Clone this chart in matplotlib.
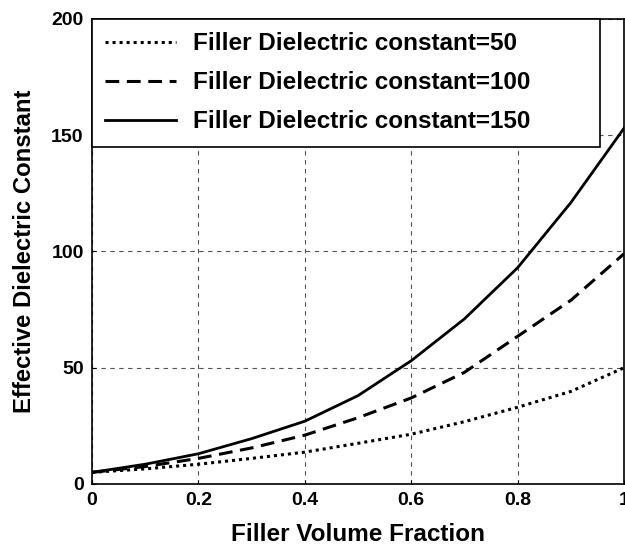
import numpy as np
import matplotlib.pyplot as plt

plt.rcParams['font.family'] = ['Liberation Sans', 'DejaVu Sans']
plt.rcParams['font.weight'] = 'bold'

# volume fraction and effective dielectric constant
vf = [0.0, 0.1, 0.2, 0.3, 0.4, 0.5, 0.6, 0.7, 0.8, 0.9, 1.0]
eps_50 = [5, 6.5, 8.5, 11, 13.7, 17.5, 21.4, 26.8, 33, 39.8, 50]
eps_100 = [5, 7.5, 11, 15.5, 21, 28.5, 37, 48, 63.5, 79, 99]
eps_150 = [5, 8.5, 13, 19.5, 27, 38, 53, 71, 93, 121, 153]

labels = ['Filler Dielectric constant=50',
          'Filler Dielectric constant=100',
          'Filler Dielectric constant=150']

fig = plt.figure(figsize=(6.25, 5.47), dpi=100)
ax = fig.add_axes([0.1472, 0.1152, 0.8512, 0.8501])

ax.plot(vf, eps_50, color='black', lw=2.2, linestyle=(0, (1, 1.3)), label=labels[0])
ax.plot(vf, eps_100, color='black', lw=2.2, linestyle=(0, (4.5, 2.5)), label=labels[1])
ax.plot(vf, eps_150, color='black', lw=2.0, linestyle='-', label=labels[2])

ax.set_xlim(0, 1)
ax.set_ylim(0, 200)
ax.set_xticks([0, 0.2, 0.4, 0.6, 0.8, 1])
ax.set_xticklabels(['0', '0.2', '0.4', '0.6', '0.8', '1'])
ax.set_yticks([0, 50, 100, 150, 200])
ax.tick_params(direction='in', length=3, labelsize=14, pad=6)
for lab in ax.get_xticklabels() + ax.get_yticklabels():
    lab.set_fontweight('bold')

ax.grid(True, color='#555555', linestyle=(0, (4, 4)), lw=0.8)
for s in ax.spines.values():
    s.set_linewidth(1.2)

ax.set_xlabel('Filler Volume Fraction', fontsize=17.5, fontweight='bold', labelpad=10)
ax.set_ylabel('Effective Dielectric Constant', fontsize=17.2, fontweight='bold', labelpad=11)

leg = ax.legend(loc='upper left', bbox_to_anchor=(0, 0, 0.954, 1), mode='expand',
                fontsize=17.5, frameon=True, fancybox=False,
                edgecolor='black', framealpha=1, handlelength=2.9,
                labelspacing=0.66, borderaxespad=0.0, borderpad=0.55,
                handletextpad=0.7)
leg.get_frame().set_linewidth(1.2)
for t in leg.get_texts():
    t.set_fontweight('bold')

fig.savefig('out.png', dpi=100)
